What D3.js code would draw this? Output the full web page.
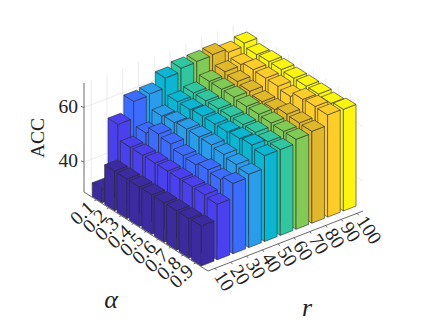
<!DOCTYPE html>
<html><head><meta charset="utf-8">
<script src="https://cdnjs.cloudflare.com/ajax/libs/d3/7.8.5/d3.min.js"></script>
<style>html,body{margin:0;padding:0;background:#fff}svg{display:block}text{font-family:"Liberation Serif",serif;fill:#222}</style>
</head><body><svg id="c" width="432" height="324"></svg>
<script>
const alphaLabels=["0.1","0.2","0.3","0.4","0.5","0.6","0.7","0.8","0.9"];
const rLabels=["10","20","30","40","50","60","70","80","90","100"];
const zTicks=[40,60];
const colors=["#3b2aa0","#4a40ee","#3c6cff","#2a9cec","#0bb6d2","#30c7a0","#80cb55","#e0b92a","#ffcd2a","#fbf50f"];
const a01=[34,55.5,61.7,62.2,65.8,67.2,67.4,67.7,66.3,67.4];
const a02=[43.5,50,53,57,60,61,63,64.3,64.7,66.1];
const a03=[43.5,50,55.5,57.5,60,61,63,63.6,65.7,66.4];
const a04=[43.5,50,54.8,58,60.5,61,63,62.9,65.5,66.4];
const a05=[43.5,50,53.4,58,60.5,61,62.5,62,65.4,66.1];
const a06=[43.5,50,53,58,60.5,61,62.5,62,64.6,66.1];
const a07=[43.5,50,54,57.4,61,61,62.2,63.2,66.4,66.1];
const a08=[43.5,50,53.4,56.6,61.5,60.5,62,62.9,66.7,65.6];
const a09=[43.7,49.4,54.8,55.9,60.5,60.5,62,62.7,66.5,66.3];
const acc=[a01,a02,a03,a04,a05,a06,a07,a08,a09];

const origin=[84,192];
const scaleA0=d3.scaleLinear([0,10],[0,124]), scaleA1=d3.scaleLinear([0,10],[0,79]);
const scaleR0=d3.scaleLinear([0.55,10.37],[0,155]), scaleR1=d3.scaleLinear([0.55,10.37],[0,-60]);
const scaleZ=d3.scaleLinear([29,69],[0,-109]);
function P(a,r,z){return [origin[0]+scaleA0(a)+scaleR0(r),origin[1]+scaleA1(a)+scaleR1(r)+scaleZ(z)];}
const svg=d3.select("#c");
const aMin=0,aMax=10,rMin=0.55,rMax=10.37,zMin=29,zMax=69;
const line=pts=>"M"+pts.map(p=>p.join(",")).join("L");
const grid=svg.append("g").attr("fill","none").attr("stroke","#e6e6e6").attr("stroke-width",0.8);
function gl(pts){grid.append("path").attr("d",line(pts));}
alphaLabels.forEach((_,i)=>{const a=i+1;gl([P(a,rMin,zMin),P(a,rMax,zMin),P(a,rMax,zMax)]);});
rLabels.forEach((_,j)=>{const r=j+1;gl([P(aMin,r,zMax),P(aMin,r,zMin),P(aMax,r,zMin)]);});
zTicks.forEach(z=>gl([P(aMin,rMin,z),P(aMin,rMax,z),P(aMax,rMax,z)]));
// bars
const w=0.4;
const bars=svg.append("g").attr("stroke","#2b2b2b").attr("stroke-width",0.7).attr("stroke-linejoin","round").attr("stroke-opacity",0.85);
const cells=[];
acc.forEach((row,i)=>{for(let j=row.length-1;j>=0;j--)cells.push({i,j,v:row[j]});});
cells.forEach(d=>{
  const a=d.i+1,r=d.j+1,z=d.v,c=colors[d.j];
  const g=bars.append("g").attr("fill",c);
  g.append("path").attr("d",line([P(a-w,r-w,zMin),P(a+w,r-w,zMin),P(a+w,r-w,z),P(a-w,r-w,z)])+"Z");
  g.append("path").attr("d",line([P(a+w,r-w,zMin),P(a+w,r+w,zMin),P(a+w,r+w,z),P(a+w,r-w,z)])+"Z");
  g.append("path").attr("d",line([P(a-w,r-w,z),P(a+w,r-w,z),P(a+w,r+w,z),P(a-w,r+w,z)])+"Z");
});
// axes
const ax=svg.append("g").attr("fill","none").attr("stroke","#5a5a5a").attr("stroke-width",0.9);
ax.append("path").attr("d",line([P(aMin,rMin,zMax),P(aMin,rMin,zMin),P(aMax,rMin,zMin),P(aMax,rMax,zMin)]));
const lab=svg.append("g").attr("font-size",19.5);
zTicks.forEach(z=>{const p=P(aMin,rMin,z);ax.append("path").attr("d",line([p,[p[0]-3,p[1]-1.2]]));
  lab.append("text").attr("x",p[0]-6).attr("y",p[1]+1).attr("text-anchor","end").attr("dominant-baseline","middle").text(z);});
alphaLabels.forEach((t,i)=>{const a=i+1,p=P(a,rMin,zMin);ax.append("path").attr("d",line([p,[p[0]-2,p[1]+0.8]]));
  lab.append("text").attr("text-anchor","end").attr("transform",`translate(${p[0]-1},${p[1]+9.5}) rotate(-43)`).text(t);});
rLabels.forEach((t,j)=>{const r=j+1,p=P(aMax,r,zMin);ax.append("path").attr("d",line([p,[p[0]+1.5,p[1]+2]]));
  lab.append("text").attr("text-anchor","start").attr("transform",`translate(${p[0]-1.5},${p[1]+8}) rotate(57)`).text(t);});
svg.append("text").attr("font-size",19.5).attr("text-anchor","middle").attr("transform","translate(44,138) rotate(-90)").text("ACC");
svg.append("text").attr("font-size",26).attr("font-style","italic").attr("text-anchor","middle").attr("x",111).attr("y",308).text("α");
svg.append("text").attr("font-size",26).attr("font-style","italic").attr("text-anchor","middle").attr("x",307).attr("y",316).text("r");
</script></body></html>
